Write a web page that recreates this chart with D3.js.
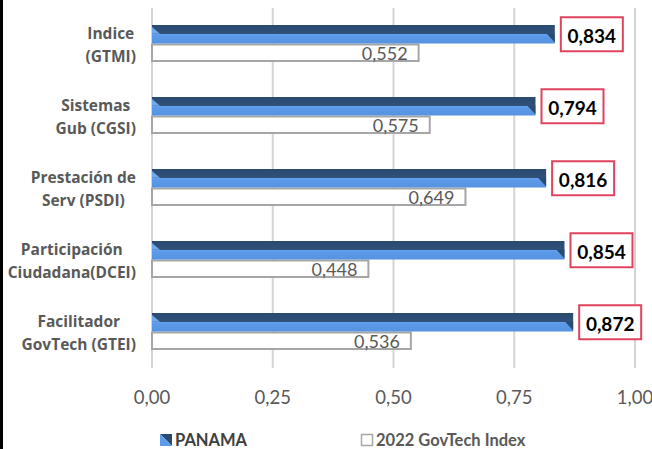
<!DOCTYPE html>
<html>
<head>
<meta charset="utf-8">
<script src="https://cdn.jsdelivr.net/npm/d3@7"></script>
<style>
  body { margin: 0; background: #fff; }
  svg { display: block; font-family: Lato, "Open Sans", sans-serif; }
</style>
</head>
<body>
<svg id="chart"></svg>
<script>
const categories = [
  ['Indice', '(GTMI)'],
  ['Sistemas', 'Gub (CGSI)'],
  ['Prestación de', 'Serv (PSDI)'],
  ['Participación', 'Ciudadana(DCEI)'],
  ['Facilitador', 'GovTech (GTEI)']
];
const panamaValues = [0.834, 0.794, 0.816, 0.854, 0.872];
const govtechValues = [0.552, 0.575, 0.649, 0.448, 0.536];
const tickValues = [0, 0.25, 0.5, 0.75, 1];
const seriesNames = ['PANAMA', '2022 GovTech Index'];

const width = 652;
const height = 449;
const fmt = (v, d) => v.toFixed(d).replace('.', ',');

const svg = d3.select('#chart').attr('width', width).attr('height', height);

// left frame line
svg.append('rect').attr('x', 0).attr('y', 0).attr('width', 3).attr('height', height).attr('fill', '#000');

const x = d3.scaleLinear().domain([0, 1]).range([152, 635]);
const keys = categories.map((c) => c.join(' '));
const y = d3.scaleBand().domain(keys).range([8, 368]);
const bw = y.bandwidth();
const inner = d3.scaleBand().domain(seriesNames).range([bw / 2 - 19, bw / 2 + 18]);

const defs = svg.append('defs');
const grad = defs.append('linearGradient').attr('id', 'panamaGrad')
  .attr('x1', 0).attr('y1', 0).attr('x2', 0).attr('y2', 1);
grad.append('stop').attr('offset', '0%').attr('stop-color', '#2B4A70');
grad.append('stop').attr('offset', '46%').attr('stop-color', '#2F5079');
grad.append('stop').attr('offset', '47%').attr('stop-color', '#6FA8F0');
grad.append('stop').attr('offset', '55%').attr('stop-color', '#5C9BEA');
grad.append('stop').attr('offset', '100%').attr('stop-color', '#5693E0');

// gridlines
svg.append('g').selectAll('line').data(tickValues).enter().append('line')
  .attr('x1', (d) => x(d)).attr('x2', (d) => x(d))
  .attr('y1', 8).attr('y2', 368)
  .attr('stroke', '#D4D4D4').attr('stroke-width', 2);

// tick labels
svg.append('g').selectAll('text').data(tickValues).enter().append('text')
  .attr('x', (d) => x(d)).attr('y', 397)
  .attr('text-anchor', 'middle').attr('dominant-baseline', 'central')
  .attr('font-size', 18.5).attr('fill', '#595959')
  .text((d) => fmt(d, 2));

// category labels (lines centred, block right-aligned)
const catG = svg.append('g');
categories.forEach((lines, i) => {
  const cy = y(keys[i]) + bw / 2;
  const g = catG.append('g');
  const texts = lines.map((l, j) => g.append('text')
    .attr('y', cy + (j - 0.5) * 23)
    .attr('dominant-baseline', 'central')
    .attr('text-anchor', 'middle')
    .attr('font-family', '"Open Sans", sans-serif')
    .attr('font-size', 15.5).attr('font-weight', 'bold').attr('fill', '#595959')
    .text(l));
  const maxW = d3.max(texts, (t) => t.node().getComputedTextLength());
  texts.forEach((t) => t.attr('x', 136 - maxW / 2));
});

const groups = svg.append('g').selectAll('g').data(keys).enter().append('g')
  .attr('transform', (k) => `translate(0,${y(k)})`);

// GovTech bars
const gy = inner(seriesNames[1]);
const gh = inner.bandwidth();
groups.append('rect')
  .attr('x', x(0)).attr('y', gy + 1)
  .attr('width', (k, i) => x(govtechValues[i]) - x(0))
  .attr('height', gh - 2)
  .attr('fill', '#fff').attr('stroke', '#A6A6A6').attr('stroke-width', 2);
groups.append('text')
  .attr('x', (k, i) => x(govtechValues[i]) - 11)
  .attr('y', gy + gh / 2)
  .attr('text-anchor', 'end').attr('dominant-baseline', 'central')
  .attr('font-size', 18).attr('fill', '#595959')
  .text((k, i) => fmt(govtechValues[i], 3));

// PANAMA bars
const py = inner(seriesNames[0]);
const ph = inner.bandwidth();
const pm = py + ph * 0.47;
groups.append('rect')
  .attr('x', x(0)).attr('y', py)
  .attr('width', (k, i) => x(panamaValues[i]) - x(0))
  .attr('height', ph)
  .attr('fill', 'url(#panamaGrad)');
groups.append('path')
  .attr('d', `M${x(0)},${py + 2}L${x(0) + 8},${pm}L${x(0)},${pm}Z`)
  .attr('fill', '#6FA8F0');
groups.append('path')
  .attr('d', (k, i) => {
    const xe = x(panamaValues[i]);
    return `M${xe - 8},${pm}L${xe},${pm}L${xe},${py + ph - 1}Z`;
  })
  .attr('fill', '#2B4A70');

// PANAMA labels in red boxes
groups.append('rect')
  .attr('x', (k, i) => x(panamaValues[i]) + 6)
  .attr('y', py + ph / 2 - 17)
  .attr('width', 62).attr('height', 34)
  .attr('fill', '#fff').attr('stroke', '#E0435E').attr('stroke-width', 2);
groups.append('text')
  .attr('x', (k, i) => x(panamaValues[i]) + 37)
  .attr('y', py + ph / 2 + 1)
  .attr('text-anchor', 'middle').attr('dominant-baseline', 'central')
  .attr('font-size', 19).attr('font-weight', 'bold').attr('fill', '#000')
  .text((k, i) => fmt(panamaValues[i], 3));

// legend
const legend = svg.append('g').attr('font-size', 16.5).attr('font-weight', 'bold');
legend.append('path').attr('d', 'M160,434L172,434L172,446Z').attr('fill', '#2B4A70');
legend.append('path').attr('d', 'M160,434L172,446L160,446Z').attr('fill', '#5C9BEA');
legend.append('text').attr('x', 175).attr('y', 440).attr('dominant-baseline', 'central')
  .attr('fill', '#404040').text(seriesNames[0]);
legend.append('rect').attr('x', 361.5).attr('y', 434.5).attr('width', 11).attr('height', 11)
  .attr('fill', '#fff').attr('stroke', '#A6A6A6').attr('stroke-width', 1.5);
legend.append('text').attr('x', 376).attr('y', 440).attr('dominant-baseline', 'central')
  .attr('fill', '#595959').text(seriesNames[1]);
</script>
</body>
</html>
